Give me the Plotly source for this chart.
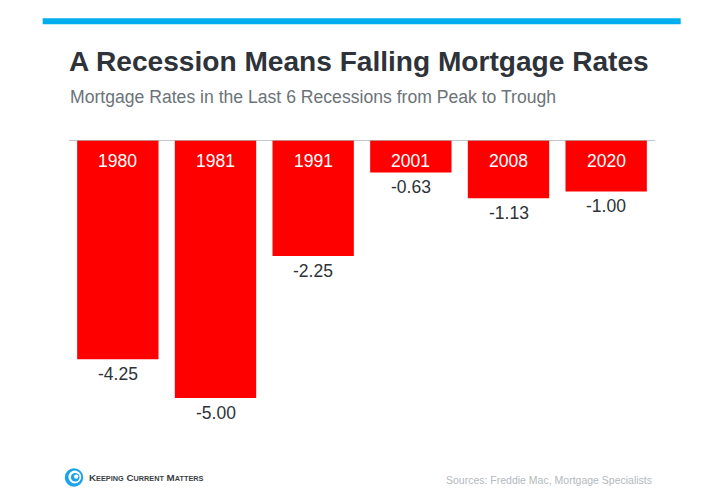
import plotly.graph_objects as go

years = ["1980", "1981", "1991", "2001", "2008", "2020"]
changes = [-4.25, -5.00, -2.25, -0.63, -1.13, -1.00]

title_text = "A Recession Means Falling Mortgage Rates"
subtitle_text = "Mortgage Rates in the Last 6 Recessions from Peak to Trough"
source_text = "Sources: Freddie Mac, Mortgage Specialists"

W, H = 727, 496
ML, MR, MT, MB = 69, 72, 140, 72
PW, PH = W - ML - MR, H - MT - MB

def pxx(x):
    return (x - ML) / PW

def pxy(y):
    return (H - MB - y) / PH

FONT = "Liberation Sans, Arial, sans-serif"

fig = go.Figure()
fig.add_trace(go.Bar(
    x=years, y=changes,
    marker=dict(color="#FF0000", line=dict(width=0)),
    hoverinfo="skip",
))

annotations = []
for i, (yr, v) in enumerate(zip(years, changes)):
    annotations.append(dict(
        x=i, y=0, xref="x", yref="y", text=yr, showarrow=False,
        yanchor="middle", yshift=-21,
        font=dict(family=FONT, size=17.5, color="#FFFFFF"),
    ))
    annotations.append(dict(
        x=i, y=v, xref="x", yref="y", text=f"{v:.2f}", showarrow=False,
        yanchor="middle", yshift=-14.5,
        font=dict(family=FONT, size=17.5, color="#2d3339"),
    ))

annotations.append(dict(
    x=pxx(67), y=pxy(62), xref="paper", yref="paper", text="<b>" + title_text + "</b>",
    showarrow=False, xanchor="left", yanchor="middle",
    font=dict(family=FONT, size=28.1, color="#2d3339"),
))
annotations.append(dict(
    x=pxx(68), y=pxy(96.5), xref="paper", yref="paper", text=subtitle_text,
    showarrow=False, xanchor="left", yanchor="middle",
    font=dict(family=FONT, size=17.6, color="#6b7378"),
))
annotations.append(dict(
    x=pxx(654), y=pxy(479.5), xref="paper", yref="paper", text=source_text,
    showarrow=False, xanchor="right", yanchor="middle",
    font=dict(family=FONT, size=10.5, color="#b4b9bd"),
))

def smallcaps(word, big=9.8, small=7.3):
    return f"<span style='font-size:{big}px'>{word[0]}</span><span style='font-size:{small}px'>{word[1:].upper()}</span>"

logo_text = "<b>" + " ".join(smallcaps(w) for w in ["Keeping", "Current", "Matters"]) + "</b>"
annotations.append(dict(
    x=pxx(86.5), y=pxy(477.5), xref="paper", yref="paper", text=logo_text,
    showarrow=False, xanchor="left", yanchor="middle",
    font=dict(family=FONT, size=9.8, color="#3a3f45"),
))

shapes = [
    dict(type="rect", xref="paper", yref="paper",
         x0=pxx(42.7), x1=pxx(680.7), y0=pxy(24.3), y1=pxy(18.3),
         fillcolor="#00AEEF", line=dict(width=0), layer="above"),
    dict(type="line", xref="paper", yref="y",
         x0=0, x1=1, y0=0, y1=0,
         line=dict(color="#b0b5b9", width=1.5), layer="above"),
]

def circ(cx, cy, r, color):
    return dict(type="circle", xref="paper", yref="paper",
                x0=pxx(cx - r), x1=pxx(cx + r), y0=pxy(cy + r), y1=pxy(cy - r),
                fillcolor=color, line=dict(width=0), layer="above")

shapes += [
    circ(74, 477.5, 9.2, "#1aa3e8"),
    circ(74.8, 477.0, 6.4, "#FFFFFF"),
    circ(75.2, 477.3, 4.3, "#1aa3e8"),
    circ(76.2, 476.6, 2.2, "#FFFFFF"),
]

axis_off = dict(showticklabels=False, showgrid=False, zeroline=False,
                showline=False, ticks="", fixedrange=True, title=None)

fig.update_layout(
    width=W, height=H,
    margin=dict(l=ML, r=MR, t=MT, b=MB, pad=0),
    paper_bgcolor="#FFFFFF", plot_bgcolor="#FFFFFF",
    bargap=0.167,
    showlegend=False,
    xaxis=dict(type="category", categoryorder="array", categoryarray=years,
               range=[-0.5, len(years) - 0.5], **axis_off),
    yaxis=dict(range=[-PH / 51.6, 0], **axis_off),
    annotations=annotations,
    shapes=shapes,
)

fig.write_html(
    "out.html",
    config={"displayModeBar": False},
    post_script="document.body.style.margin='0';document.body.style.padding='0';",
)
